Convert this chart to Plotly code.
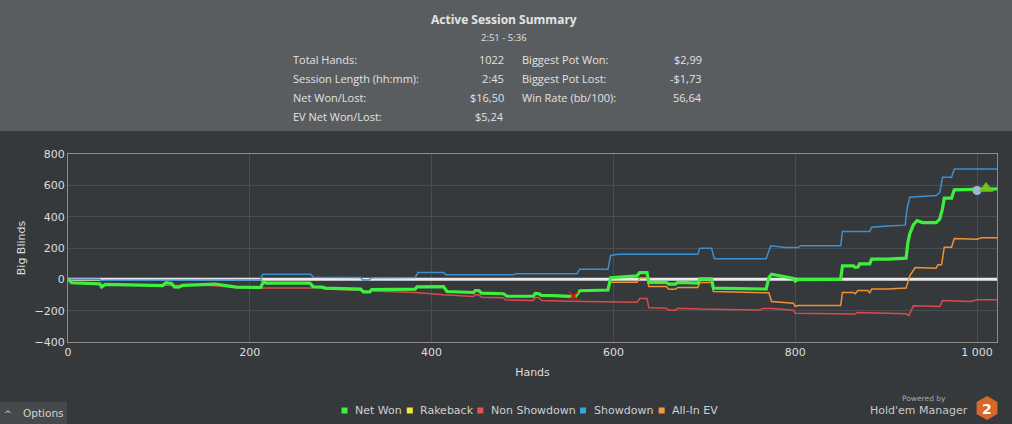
import plotly.graph_objects as go

# ---------------- data ----------------
net_hands = [0, 4, 35, 37, 41, 100, 104, 108, 114, 117, 122, 126, 150, 155, 162, 185, 212, 215, 218, 266,
             270, 280, 283, 322, 325, 332, 334, 382, 384, 413, 417, 446, 448, 452, 455, 479, 483, 512, 514,
             518, 521, 534, 552, 558, 563, 594, 597, 626, 629, 637, 639, 658, 661, 668, 671, 693, 695, 708,
             710, 768, 771, 774, 798, 800, 803, 850, 852, 864, 866, 869, 871, 882, 884, 902, 922, 924, 926,
             930, 934, 940, 955, 959, 962, 964, 972, 975, 1022]
net_vals = [0, -22, -29, -48, -32, -36, -40, -22, -26, -48, -50, -38, -33, -29, -30, -50, -52, -14, -24, -24,
            -48, -50, -56, -62, -80, -80, -66, -62, -48, -46, -78, -84, -72, -72, -88, -92, -108, -108, -90,
            -92, -102, -104, -112, -110, -73, -68, 10, 22, 43, 43, -20, -20, -31, -31, -20, -24, 3, 3,
            -56, -62, 10, 33, 5, -12, -2, 0, 86, 86, 76, 78, 99, 99, 129, 129, 135, 235, 290,
            348, 375, 362, 362, 384, 450, 518, 518, 571, 577]

showdown_hands = [0, 35, 37, 40, 212, 214, 267, 270, 322, 324, 331, 334, 382, 385, 413, 416, 490, 493, 560,
                  563, 594, 597, 605, 693, 695, 708, 711, 768, 773, 790, 803, 806, 850, 852, 882, 884, 902,
                  921, 923, 926, 955, 959, 962, 972, 975, 1022]
showdown_vals = [0, 0, -8, -6, -4, 33, 33, 14, 12, -5, -5, 10, 12, 43, 43, 29, 29, 35, 36,
                 65, 65, 152, 160, 160, 199, 199, 131, 131, 214, 203, 203, 214, 214, 305, 305, 333, 341,
                 346, 448, 524, 535, 554, 652, 652, 705, 705]

nonsd_hands = [0, 4, 35, 37, 41, 104, 117, 122, 150, 185, 212, 268, 270, 280, 283, 322, 325, 332, 334, 382,
               413, 446, 448, 452, 455, 479, 481, 512, 514, 518, 521, 552, 626, 629, 637, 639, 658, 661,
               668, 671, 695, 760, 765, 774, 798, 800, 866, 868, 922, 925, 930, 959, 962, 993, 1000, 1022]
nonsd_vals = [0, -22, -29, -40, -32, -38, -36, -40, -36, -52, -56, -56, -50, -52, -62, -70, -80, -80, -74,
              -84, -99, -110, -99, -99, -114, -118, -131, -135, -116, -116, -135, -140, -146, -122, -122,
              -182, -184, -197, -197, -184, -190, -195, -186, -186, -197, -216, -222, -212, -220, -231,
              -169, -173, -135, -141, -131, -131]

rakeback_hands = [0, 1022]
rakeback_vals = [0, 0]

# All-In EV follows Net Won until the first all-in (hand 594), then diverges
_split = net_hands.index(594) + 1
allin_hands = net_hands[:_split] + [597, 626, 629, 637, 639, 658, 661, 668, 671, 693, 695, 708, 710, 765,
                                    768, 771, 774, 798, 800, 803, 850, 852, 864, 866, 869, 880, 882, 884,
                                    902, 922, 926, 932, 955, 957, 961, 964, 972, 975, 1000, 1005, 1022]
allin_vals = net_vals[:_split] + [-18, -18, 8, 8, -46, -46, -63, -63, -52, -52, -20, -20, -78, -88,
                                  -86, -86, -141, -152, -173, -167, -167, -84, -84, -92, -71, -71, -88, -61,
                                  -61, -56, 22, 75, 71, 93, 93, 205, 205, 260, 256, 265, 265]

cross_hand, cross_val = [556], [-106]
circle_hand, circle_val = [1000], [567]
triangle_hand, triangle_val = [1010], [580]

x_tick_vals = [0, 200, 400, 600, 800, 1000]
x_tick_text = ["0", "200", "400", "600", "800", "1 000"]
y_tick_vals = [-400, -200, 0, 200, 400, 600, 800]

summary_title = "Active Session Summary"
summary_time = "2:51 - 5:36"
left_labels = ["Total Hands:", "Session Length (hh:mm):", "Net Won/Lost:", "EV Net Won/Lost:"]
left_values = ["1022", "2:45", "$16,50", "$5,24"]
right_labels = ["Biggest Pot Won:", "Biggest Pot Lost:", "Win Rate (bb/100):"]
right_values = ["$2,99", "-$1,73", "56,64"]

legend_names = ["Net Won", "Rakeback", "Non Showdown", "Showdown", "All-In EV"]
legend_colors = ["#3ef03e", "#f2e83a", "#f05050", "#3ba3e6", "#fb963a"]

# ---------------- styling / layout ----------------
W, H = 1012, 424
ML, MR, MT, MB = 68, 15, 154, 82
PW, PH = W - ML - MR, H - MT - MB


def px(x):
    return (x - ML) / PW


def py(y):
    return (H - MB - y) / PH


BG = "#36393c"
HEADER = "#5a5d60"
GRID = "#4a4d51"
AXIS = "#8d8d8d"
TXT = "#dedede"
FONT = "DejaVu Sans"
HFONT = "Open Sans"

fig = go.Figure()

fig.add_trace(go.Scatter(x=rakeback_hands, y=rakeback_vals, mode="lines", name="Rakeback",
                         line=dict(color="#e9e9e9", width=3), showlegend=False, hoverinfo="skip"))
fig.add_trace(go.Scatter(x=nonsd_hands, y=nonsd_vals, mode="lines", name="Non Showdown",
                         line=dict(color="#dc4a4a", width=1.5), showlegend=False))
fig.add_trace(go.Scatter(x=showdown_hands, y=showdown_vals, mode="lines", name="Showdown",
                         line=dict(color="#3a90d2", width=1.5), showlegend=False))
fig.add_trace(go.Scatter(x=allin_hands, y=allin_vals, mode="lines", name="All-In EV",
                         line=dict(color="#ee9235", width=1.5), showlegend=False))
fig.add_trace(go.Scatter(x=net_hands, y=net_vals, mode="lines", name="Net Won",
                         line=dict(color="#3ef03e", width=3.2), showlegend=False))
fig.add_trace(go.Scatter(x=cross_hand, y=cross_val, mode="markers", showlegend=False,
                         marker=dict(symbol="x-thin", size=9, line=dict(color="#c81616", width=2))))
fig.add_trace(go.Scatter(x=circle_hand, y=circle_val, mode="markers", showlegend=False,
                         marker=dict(symbol="circle", size=9, color="#9db7d6")))
fig.add_trace(go.Scatter(x=triangle_hand, y=triangle_val, mode="markers", showlegend=False,
                         marker=dict(symbol="triangle-up", size=13, color="#6cc51c")))

shapes = []
# header band
shapes.append(dict(type="rect", xref="paper", yref="paper", x0=px(0), x1=px(W), y0=py(131), y1=py(0),
                   fillcolor=HEADER, line=dict(width=0), layer="below"))
# options tab
shapes.append(dict(type="rect", xref="paper", yref="paper", x0=px(0), x1=px(67), y0=py(H), y1=py(402),
                   fillcolor="#46494c", line=dict(width=0), layer="below"))
# HM2 hexagon
cx, cy, r, hw = 987, 408, 12, 10.4
hexpts = [(cx, cy - r), (cx + hw, cy - r / 2), (cx + hw, cy + r / 2), (cx, cy + r),
          (cx - hw, cy + r / 2), (cx - hw, cy - r / 2)]
path = "M " + " L ".join(f"{px(a):.5f},{py(b):.5f}" for a, b in hexpts) + " Z"
shapes.append(dict(type="path", xref="paper", yref="paper", path=path, fillcolor="#d8672a",
                   line=dict(width=0), layer="above"))

annotations = []
annotations.append(dict(text=f"<b>{summary_title}</b>", x=px(504), y=py(20), xref="paper", yref="paper",
                        showarrow=False, xanchor="center", yanchor="middle",
                        font=dict(family=HFONT, size=12, color="#e4e4e4")))
annotations.append(dict(text=summary_time, x=px(504), y=py(37), xref="paper", yref="paper",
                        showarrow=False, xanchor="center", yanchor="middle",
                        font=dict(family=HFONT, size=9.5, color="#e0e0e0")))
row_y = [59, 78, 97, 116]
for i, (lab, val) in enumerate(zip(left_labels, left_values)):
    annotations.append(dict(text=lab, x=px(291), y=py(row_y[i]), xref="paper", yref="paper",
                            showarrow=False, xanchor="left", yanchor="middle",
                            font=dict(family=HFONT, size=11, color="#e2e2e2")))
    annotations.append(dict(text=val, x=px(506), y=py(row_y[i]), xref="paper", yref="paper",
                            showarrow=False, xanchor="right", yanchor="middle",
                            font=dict(family=HFONT, size=11, color="#e2e2e2")))
for i, (lab, val) in enumerate(zip(right_labels, right_values)):
    annotations.append(dict(text=lab, x=px(520), y=py(row_y[i]), xref="paper", yref="paper",
                            showarrow=False, xanchor="left", yanchor="middle",
                            font=dict(family=HFONT, size=11, color="#e2e2e2")))
    annotations.append(dict(text=val, x=px(704), y=py(row_y[i]), xref="paper", yref="paper",
                            showarrow=False, xanchor="right", yanchor="middle",
                            font=dict(family=HFONT, size=11, color="#e2e2e2")))

# custom legend (square swatches)
sq_x = [344.5, 409.8, 480.3, 583.0, 661.7]
tx_x = [353.3, 418.3, 489.3, 591.7, 670.0]
ly = 410.5
for name, col, sx, tx in zip(legend_names, legend_colors, sq_x, tx_x):
    shapes.append(dict(type="rect", xref="paper", yref="paper", x0=px(sx - 3), x1=px(sx + 3),
                       y0=py(ly + 3), y1=py(ly - 3), fillcolor=col, line=dict(width=0)))
    annotations.append(dict(text=name, x=px(tx), y=py(ly), xref="paper", yref="paper", showarrow=False,
                            xanchor="left", yanchor="middle", font=dict(family=FONT, size=11, color="#cfcfcf")))

# options tab text
annotations.append(dict(text="^", x=px(8), y=py(414), xref="paper", yref="paper", showarrow=False,
                        xanchor="center", yanchor="middle", font=dict(family=FONT, size=9, color="#cfcfcf")))
annotations.append(dict(text="Options", x=px(21), y=py(413), xref="paper", yref="paper", showarrow=False,
                        xanchor="left", yanchor="middle", font=dict(family=FONT, size=10.5, color="#d2d2d2")))
# powered by
annotations.append(dict(text="Powered by", x=px(948), y=py(398), xref="paper", yref="paper", showarrow=False,
                        xanchor="right", yanchor="middle", font=dict(family=FONT, size=7.5, color="#a8a8a8")))
annotations.append(dict(text="Hold'em Manager", x=px(970), y=py(410), xref="paper", yref="paper",
                        showarrow=False, xanchor="right", yanchor="middle",
                        font=dict(family=FONT, size=11, color="#c8c8c8")))
annotations.append(dict(text="<b>2</b>", x=px(987), y=py(408.5), xref="paper", yref="paper", showarrow=False,
                        xanchor="center", yanchor="middle", font=dict(family=FONT, size=14, color="#ffffff")))

fig.update_layout(
    width=W, height=H,
    margin=dict(l=ML, r=MR, t=MT, b=MB, pad=0),
    paper_bgcolor=BG, plot_bgcolor=BG,
    showlegend=False,
    font=dict(family=FONT, size=11, color=TXT),
    shapes=shapes, annotations=annotations,
    xaxis=dict(range=[0, 1022], tickvals=x_tick_vals, ticktext=x_tick_text, showgrid=True, gridcolor=GRID,
               gridwidth=1, zeroline=False, showline=True, linecolor=AXIS, linewidth=1, mirror=True,
               ticks="", ticklen=0, tickfont=dict(family=FONT, size=11, color=TXT),
               title=dict(text="Hands", font=dict(family=FONT, size=11, color=TXT), standoff=10)),
    yaxis=dict(range=[-400, 800], tickvals=y_tick_vals, showgrid=True, gridcolor=GRID, gridwidth=1,
               zeroline=False, showline=True, linecolor=AXIS, linewidth=1, mirror=True,
               ticks="", ticklen=0, tickfont=dict(family=FONT, size=11, color=TXT),
               title=dict(text="Big Blinds", font=dict(family=FONT, size=11, color=TXT), standoff=6)),
    hovermode="closest",
)

fig.write_html("out.html", config={"displayModeBar": False},
               post_script="document.body.style.margin='0';document.body.style.overflow='hidden';")
